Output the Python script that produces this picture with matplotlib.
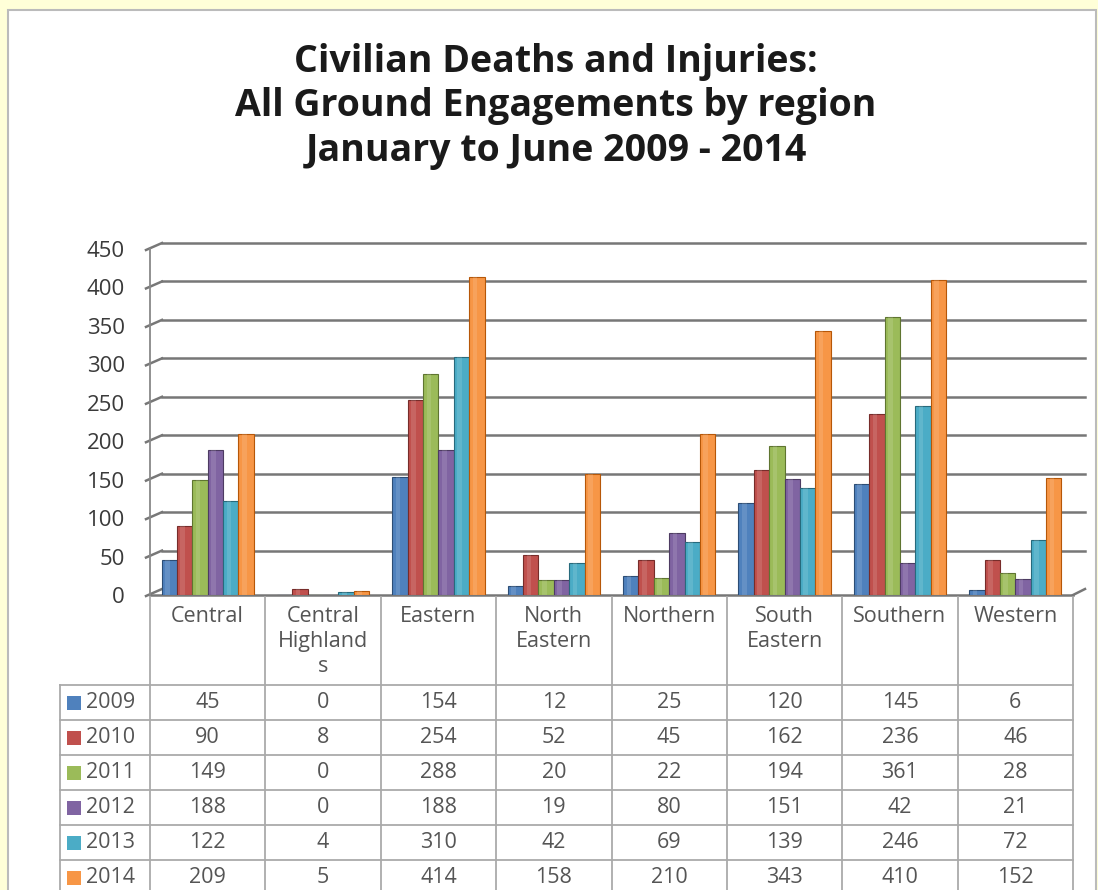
import matplotlib.pyplot as plt
from matplotlib.patches import Rectangle
from matplotlib.lines import Line2D

regions = ["Central", "Central\nHighland\ns", "Eastern", "North\nEastern", "Northern",
           "South\nEastern", "Southern", "Western"]
years = ["2009", "2010", "2011", "2012", "2013", "2014"]
v2009 = [45, 0, 154, 12, 25, 120, 145, 6]
v2010 = [90, 8, 254, 52, 45, 162, 236, 46]
v2011 = [149, 0, 288, 20, 22, 194, 361, 28]
v2012 = [188, 0, 188, 19, 80, 151, 42, 21]
v2013 = [122, 4, 310, 42, 69, 139, 246, 72]
v2014 = [209, 5, 414, 158, 210, 343, 410, 152]
series = [v2009, v2010, v2011, v2012, v2013, v2014]
colors = ["#4F81BD", "#C0504D", "#9BBB59", "#8064A2", "#4BACC6", "#F79646"]
edges = ["#2C4D75", "#772C2A", "#5F7530", "#4D3B62", "#276A7C", "#B65708"]
yticks = [0, 50, 100, 150, 200, 250, 300, 350, 400, 450]

W, H = 1098, 890
plt.rcParams['font.family'] = ['Open Sans', 'DejaVu Sans']
fig = plt.figure(figsize=(W / 100, H / 100), dpi=100)
fig.patch.set_facecolor("#FFFFD8")

def fx(px):
    return px / W

def fy(py):
    return 1 - py / H

# white panel behind everything
panel = Rectangle((fx(8), fy(900)), fx(1096) - fx(8), fy(10) - fy(900),
                  transform=fig.transFigure, facecolor="white",
                  edgecolor="#BBBBBB", lw=1.5, zorder=-5)
fig.patches.append(panel)

title_lines = ["Civilian Deaths and Injuries:", "All Ground Engagements by region",
               "January to June 2009 - 2014"]
for t, ty in zip(title_lines, [62, 106, 151]):
    fig.text(fx(556), fy(ty), t, ha="center", va="center",
             fontsize=27, fontweight="bold", color="#1a1a1a")

# bar axes (front plane)
x0, x1 = 150, 1073
y_zero, y_top = 595, 249
ax = fig.add_axes([fx(x0), fy(y_zero), fx(x1) - fx(x0), fy(y_top) - fy(y_zero)])
ax.set_facecolor("none")
ax.set_zorder(2)
n = len(regions)
ax.set_xlim(-0.5, n - 0.5)
ax.set_ylim(0, 450)
bw = 0.8 / len(series)
for i, (vals, c, ec) in enumerate(zip(series, colors, edges)):
    offs = -0.4 + bw * (i + 0.5)
    xs = [k + offs for k in range(n)]
    ax.bar(xs, vals, width=bw, color=c, edgecolor=ec, linewidth=0.8, zorder=3)
    # soft highlight to give the bars a rounded look
    ax.bar([x - bw * 0.12 for x in xs], vals, width=bw * 0.3, color="white",
           alpha=0.12, linewidth=0, zorder=4)
ax.set_xticks([])
ax.set_yticks(yticks)
ax.tick_params(axis="y", length=0, pad=18, labelsize=16, labelcolor="#3A3A3A")
for s in ["top", "right", "bottom"]:
    ax.spines[s].set_visible(False)
ax.spines["left"].set_color("#888888")
ax.spines["left"].set_linewidth(1.3)

# back-wall gridlines with depth offset
dx, dy = 12, 6
grid_kw = dict(color="#777777", lw=1.8, transform=fig.transFigure, zorder=1)
for v in yticks:
    yd = ax.transData.transform((0, v))[1]
    ypx = H - yd
    fig.add_artist(Line2D([fx(x0 - 4), fx(x0 + dx)], [fy(ypx + 1), fy(ypx - dy)], **grid_kw))
    if v == 0:
        fig.add_artist(Line2D([fx(x0), fx(x1)], [fy(ypx), fy(ypx)], **grid_kw))
        fig.add_artist(Line2D([fx(x1), fx(x1 + dx)], [fy(ypx), fy(ypx - dy)], **grid_kw))
    else:
        fig.add_artist(Line2D([fx(x0 + dx), fx(x1 + dx)], [fy(ypx - dy), fy(ypx - dy)], **grid_kw))

# data table below the bars
row_top = 685
row_h = 35
col_w = (x1 - x0) / n
leg_x = 60
line_kw = dict(color="#AAAAAA", lw=1.3, transform=fig.transFigure)
for k in range(n + 1):
    xp = x0 + k * col_w
    fig.add_artist(Line2D([fx(xp), fx(xp)], [fy(y_zero + 2), fy(H + 10)], **line_kw))
fig.add_artist(Line2D([fx(leg_x), fx(leg_x)], [fy(row_top), fy(H + 10)], **line_kw))
for r in range(len(years) + 1):
    yp = row_top + r * row_h
    fig.add_artist(Line2D([fx(leg_x), fx(x1)], [fy(yp), fy(yp)], **line_kw))

txt_kw = dict(fontsize=15.5, color="#555555")
for k, name in enumerate(regions):
    cx = x0 + (k + 0.5) * col_w
    fig.text(fx(cx), fy(606), name, ha="center", va="top", linespacing=1.25, **txt_kw)

for r, (yr, vals, c) in enumerate(zip(years, series, colors)):
    cy = row_top + (r + 0.5) * row_h
    fig.patches.append(Rectangle((fx(67), fy(cy + 7)), fx(14), fy(cy - 7) - fy(cy + 7),
                                 transform=fig.transFigure, facecolor=c, edgecolor="none"))
    fig.text(fx(86), fy(cy), yr, ha="left", va="center", **txt_kw)
    for k, v in enumerate(vals):
        cx = x0 + (k + 0.5) * col_w
        fig.text(fx(cx), fy(cy), str(v), ha="center", va="center", **txt_kw)

fig.savefig("out.png", dpi=100, facecolor=fig.get_facecolor())
